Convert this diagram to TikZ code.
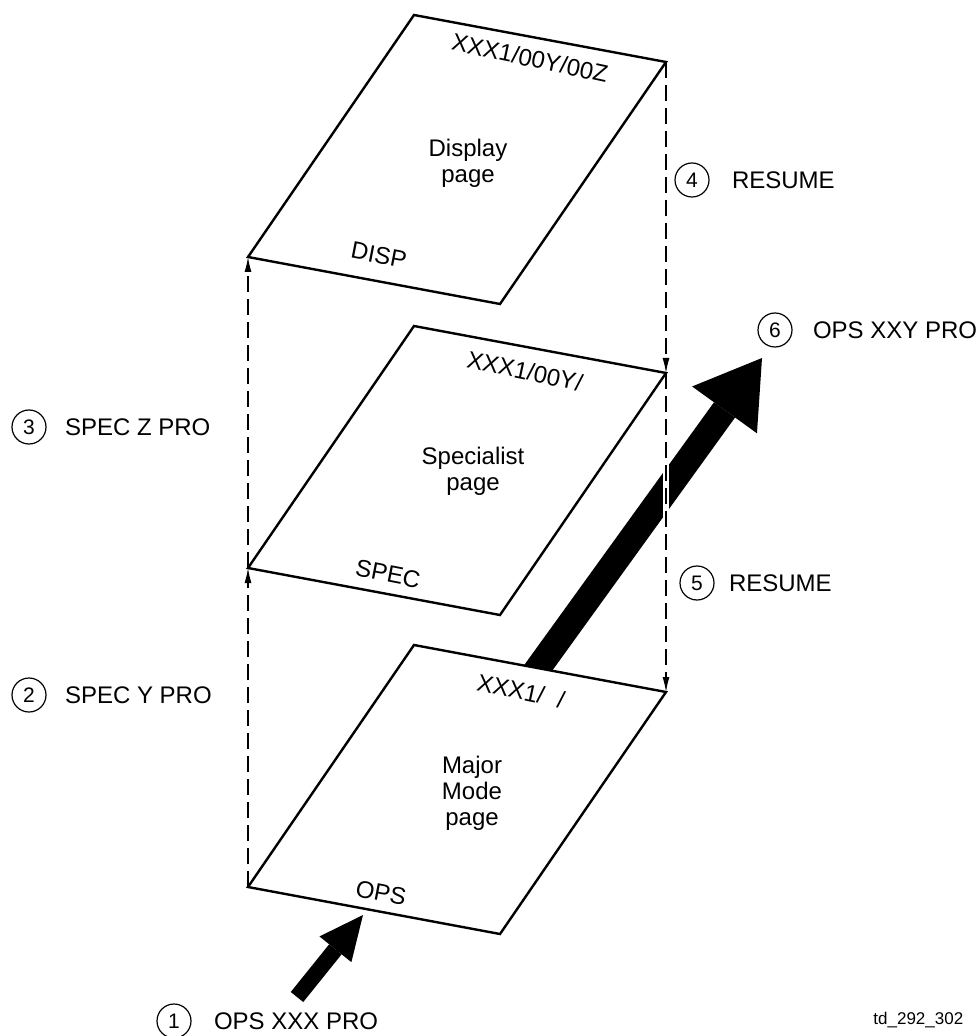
\documentclass[tikz,border=0pt]{standalone}
\usepackage{fontspec}
\setmainfont{Liberation Sans}
\usetikzlibrary{positioning, arrows.meta, calc}

\begin{document}
\begin{tikzpicture}[
    x=0.5pt, y=-0.5pt,
    page/.style={draw, line width=1.2pt, fill=white, line join=miter},
    pagetext/.style={font=\fontsize{12}{13}\selectfont, align=center, inner sep=0pt},
    pageid/.style={pagetext, rotate=-12},
    pagetag/.style={pagetext, rotate=-11},
    num/.style={circle, draw, line width=0.6pt, minimum size=17pt, inner sep=0pt,
      font=\fontsize{10.5}{12}\selectfont},
    lbl/.style={font=\fontsize{12}{14}\selectfont, inner sep=0pt},
    link/.style={line width=0.6pt, dash pattern=on 8pt off 3.5pt,
      -{Latex[length=7.5pt, width=3.5pt]}},
    bigarr/.style={line width=13pt, -{Triangle[length=32pt, width=40pt, line width=0pt]}},
    inarr/.style={line width=8pt, -{Triangle[length=22pt, width=20.5pt, line width=0pt]}}
  ]
  \useasboundingbox (0,0) rectangle (979,1036);

  \coordinate (dispBL) at (248,257);
  \coordinate (specBL) at (248,568);
  \coordinate (opsBL) at (248,887);

  % arrow 6 starts under the OPS page
  \coordinate (from6) at (515,700);
  \coordinate (out6) at (762,358);
  \draw[bigarr] (from6) -- (out6);
  \draw[white, line width=3pt] ($(specBL)+(418,-128)$) -- ($(specBL)+(418,-18)$);

  % the three pages
  \draw[page] (dispBL) -- ++(166,-242) coordinate (dispTL) -- ++(252,47) coordinate (dispTR)
    -- ++(-166,242) coordinate (dispBR) -- cycle;
  \draw[page] (specBL) -- ++(166,-242) coordinate (specTL) -- ++(252,47) coordinate (specTR)
    -- ++(-166,242) coordinate (specBR) -- cycle;
  \draw[page] (opsBL) -- ++(166,-242) coordinate (opsTL) -- ++(252,47) coordinate (opsTR)
    -- ++(-166,242) coordinate (opsBR) -- cycle;

  \node[pageid] (dispid) at (530,58) {XXX1/00Y/00Z};
  \node[pagetext] (disptitle) at (468,163) {Display\\page};
  \node[pagetag] (disptag) at (379,255) {DISP};

  \node[pageid] (specid) at (525,371) {XXX1/00Y/};
  \node[pagetext] (spectitle) at (473,471) {Specialist\\page};
  \node[pagetag] (spectag) at (388,574) {SPEC};

  \node[pageid] (opsid) at (521,691) {XXX1/\hspace{7pt}/};
  \node[pagetext] (opstitle) at (472,793) {Major\\Mode\\page};
  \node[pagetag] (opstag) at (381,893) {OPS};

  % page changes
  \draw[link] (opsBL) -- (specBL);
  \draw[link] (specBL) -- (dispBL);
  \draw[link] (dispTR) -- (specTR);
  \draw[link] (specTR) -- (opsTR);

  \coordinate (in1) at (297,997);
  \coordinate (opsin) at (363,915);
  \draw[inarr] (in1) -- (opsin);

  \node[num] (c1) at (174,1021) {1};
  \node[lbl, right=11pt of c1] (t1) {OPS XXX PRO};
  \node[num] (c2) at (29,695) {2};
  \node[lbl, right=9pt of c2] (t2) {SPEC Y PRO};
  \node[num] (c3) at (29,427) {3};
  \node[lbl, right=9pt of c3] (t3) {SPEC Z PRO};
  \node[num] (c4) at (692,180) {4};
  \node[lbl, right=11pt of c4] (t4) {RESUME};
  \node[num] (c5) at (697,583) {5};
  \node[lbl, right=7pt of c5] (t5) {RESUME};
  \node[num] (c6) at (775,330) {6};
  \node[lbl, right=10pt of c6] (t6) {OPS XXY PRO};

  \node[lbl, anchor=west, font=\fontsize{8.5}{10}\selectfont] (figid) at (873,1020) {td\_292\_302};
\end{tikzpicture}
\end{document}
